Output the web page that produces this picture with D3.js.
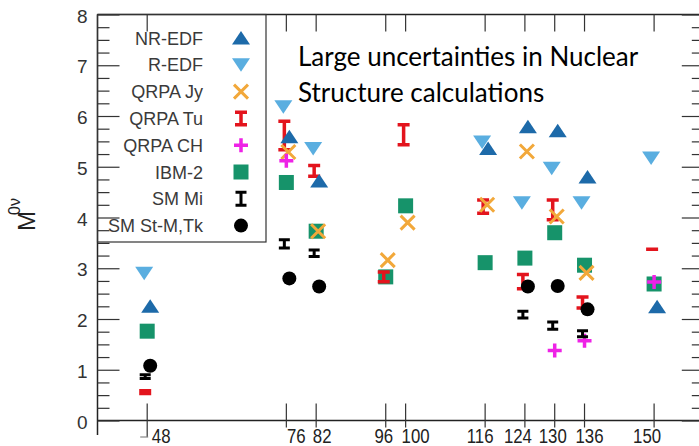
<!DOCTYPE html>
<html><head><meta charset="utf-8">
<script src="https://cdn.jsdelivr.net/npm/d3@7"></script>
<style>body{margin:0;background:#fff}svg{display:block}</style>
</head><body>
<script>
// Nuclear matrix elements M0ν per isotope mass number, for several model calculations
const masses = [48, 76, 82, 96, 100, 116, 124, 130, 136, 150];
const massLabels = ["48", "76", "82", "96", "100", "116", "124", "130", "136", "150"];
const yTickValues = [0, 1, 2, 3, 4, 5, 6, 7, 8];

const nrEdf  = [2.25, 5.59, 4.72, null, null, 5.36, 5.79, 5.71, 4.80, 2.24];
const rEdf   = [2.90, 6.18, 5.36, null, null, 5.49, 4.29, 4.97, 4.29, 5.17];
const qrpaJy = [null, 5.29, 3.73, 3.16, 3.90, 4.25, 5.30, 4.02, 2.91, null];
const qrpaTuLow  = [0.50, 5.30, 4.78, 2.70, 5.40, 4.05, 2.56, 3.92, 2.18, 3.36];
const qrpaTuHigh = [0.62, 5.93, 5.06, 2.96, 5.86, 4.38, 2.91, 4.38, 2.47, 3.39];
const qrpaCh = [null, 5.12, null, null, null, null, null, 1.38, 1.57, 2.73];
const ibm2   = [1.76, 4.69, 3.73, 2.83, 4.23, 3.11, 3.20, 3.70, 3.06, 2.69];
const smMiLow  = [0.80, 3.37, 3.20, null, null, null, 1.99, 1.77, 1.62, null];
const smMiHigh = [0.93, 3.59, 3.39, null, null, null, 2.18, 1.97, 1.80, null];
const smStM  = [1.08, 2.80, 2.64, null, null, null, 2.64, 2.65, 2.19, null];

const legendLabels = ["NR-EDF", "R-EDF", "QRPA Jy", "QRPA Tu", "QRPA CH", "IBM-2", "SM Mi", "SM St-M,Tk"];

// ---- layout ----
const W = 699, H = 446;
const x = d3.scaleLinear().domain([38, 160]).range([97.5, 703.8]);
const y = d3.scaleLinear().domain([0, 8]).range([420.5, 14.5]);

// label nudges (px) for the mass-number tick labels
const labelNudge = {48: 14, 76: 10, 82: 6, 96: -2, 100: 10, 116: -5, 124: -7, 130: -2, 136: 5, 150: -7};

const svg = d3.select("body").append("svg").attr("width", W).attr("height", H)
  .style("font-family", "'Liberation Sans', Arial, sans-serif");

// ---- marker drawing helpers ----
const shapes = {
  up: (g, cx, cy, c) => g.append("path")
      .attr("d", `M${cx - 9},${cy + 6.5}L${cx + 9},${cy + 6.5}L${cx},${cy - 7}Z`).attr("fill", c),
  down: (g, cx, cy, c) => g.append("path")
      .attr("d", `M${cx - 9},${cy - 6.5}L${cx + 9},${cy - 6.5}L${cx},${cy + 7}Z`).attr("fill", c),
  square: (g, cx, cy, c) => g.append("rect")
      .attr("x", cx - 7.5).attr("y", cy - 7.5).attr("width", 15).attr("height", 15).attr("fill", c),
  circle: (g, cx, cy, c) => g.append("circle").attr("cx", cx).attr("cy", cy).attr("r", 7).attr("fill", c),
  cross: (g, cx, cy, c) => g.append("path")
      .attr("d", `M${cx - 7},${cy - 7}L${cx + 7},${cy + 7}M${cx - 7},${cy + 7}L${cx + 7},${cy - 7}`)
      .attr("stroke", c).attr("stroke-width", 3).attr("fill", "none"),
  plus: (g, cx, cy, c) => g.append("path")
      .attr("d", `M${cx - 7},${cy}L${cx + 7},${cy}M${cx},${cy - 7}L${cx},${cy + 7}`)
      .attr("stroke", c).attr("stroke-width", 3.5).attr("fill", "none")
};
function errorBar(g, cx, y0, y1, c, capW, sw) {
  const top = Math.min(y0, y1) + sw / 2, bot = Math.max(y0, y1) - sw / 2;
  const t = Math.min(top, (y0 + y1) / 2), b = Math.max(bot, (y0 + y1) / 2);
  g.append("path")
    .attr("d", `M${cx},${t}L${cx},${b}M${cx - capW / 2},${t}L${cx + capW / 2},${t}M${cx - capW / 2},${b}L${cx + capW / 2},${b}`)
    .attr("stroke", c).attr("stroke-width", sw).attr("fill", "none");
}

const colors = {
  nr: "#1d6aa9", r: "#5aaee0", jy: "#f2a83a", tu: "#e3141d", ch: "#ee22e6",
  ibm: "#16936a", mi: "#000", stm: "#000"
};

// ---- axes frame ----
const frame = svg.append("g").attr("stroke", "#222").attr("fill", "none");
frame.append("line").attr("x1", x.range()[0]).attr("x2", W).attr("y1", y(0)).attr("y2", y(0)).attr("stroke-width", 1.5);
frame.append("line").attr("x1", x.range()[0]).attr("x2", W).attr("y1", y(8)).attr("y2", y(8)).attr("stroke-width", 1.5);
frame.append("line").attr("x1", x.range()[0]).attr("x2", x.range()[0]).attr("y1", y(8)).attr("y2", 435).attr("stroke-width", 1.5);

const minorTicks = d3.range(0, 8.001, 0.25).filter(v => Math.abs(v - Math.round(v)) > 1e-6);

// left axis: inward ticks, labels outside
svg.append("g").attr("transform", `translate(${x.range()[0]},0)`)
  .call(d3.axisLeft(y).tickValues(minorTicks).tickSizeInner(-12).tickSizeOuter(0).tickFormat(""))
  .call(g => g.select(".domain").remove())
  .call(g => g.selectAll("line").attr("stroke", "#333").attr("stroke-width", 1.2));
svg.append("g").attr("transform", `translate(${x.range()[0]},0)`)
  .call(d3.axisLeft(y).tickValues(yTickValues).tickSizeInner(-22).tickSizeOuter(0).tickPadding(10).tickFormat(d3.format("d")))
  .call(g => g.select(".domain").remove())
  .call(g => g.selectAll("line").attr("stroke", "#333").attr("stroke-width", 1.2))
  .call(g => g.selectAll("text").attr("font-size", 19).attr("fill", "#333")
      .attr("font-family", "'Liberation Sans', Arial, sans-serif").attr("dy", "0.4em"));

// right axis: inward ticks only
svg.append("g").attr("transform", `translate(${x.range()[1]},0)`)
  .call(d3.axisRight(y).tickValues(minorTicks).tickSizeInner(-12).tickSizeOuter(0).tickFormat(""))
  .call(g => g.select(".domain").remove())
  .call(g => g.selectAll("line").attr("stroke", "#333").attr("stroke-width", 1.2));
svg.append("g").attr("transform", `translate(${x.range()[1]},0)`)
  .call(d3.axisRight(y).tickValues(yTickValues).tickSizeInner(-22).tickSizeOuter(0).tickFormat(""))
  .call(g => g.select(".domain").remove())
  .call(g => g.selectAll("line").attr("stroke", "#333").attr("stroke-width", 1.2));

// bottom and top mass-number ticks
const xt = svg.append("g").attr("stroke", "#333").attr("stroke-width", 1.2);
masses.forEach((m, i) => {
  xt.append("line").attr("x1", x(m)).attr("x2", x(m)).attr("y1", y(0) - 17).attr("y2", m === 48 ? 437 : y(0) + 7);
  xt.append("line").attr("x1", x(m)).attr("x2", x(m)).attr("y1", y(8)).attr("y2", y(8) + 17);
});
// small dash beside the first label
xt.append("line").attr("x1", x(48) - 7).attr("x2", x(48) + 1).attr("y1", 437).attr("y2", 437).attr("stroke", "#888");

svg.append("g").selectAll("text").data(masses).join("text")
  .attr("transform", (m) => `translate(${x(m) + labelNudge[m]},443) scale(0.8,1)`)
  .attr("text-anchor", "middle").attr("font-size", 21).attr("fill", "#222")
  .text((m, i) => massLabels[i]);

// y-axis title M^0ν
const yt = svg.append("text").attr("transform", "translate(35,231) rotate(-90)")
  .attr("font-family", "'Liberation Sans', Arial, sans-serif").attr("fill", "#222");
yt.append("tspan").attr("font-size", 24).text("M");
yt.append("tspan").attr("font-size", 16).attr("dx", -4).attr("dy", -15).text("0ν");

// ---- legend ----
const lg = svg.append("g");
lg.append("rect").attr("x", x.range()[0]).attr("y", y(8)).attr("width", 266 - x.range()[0]).attr("height", 242 - y(8))
  .attr("fill", "none").attr("stroke", "#333").attr("stroke-width", 1.2);
const legendKinds = ["up", "down", "cross", "tuBar", "plus", "square", "miBar", "circle"];
const legendColors = [colors.nr, colors.r, colors.jy, colors.tu, colors.ch, colors.ibm, colors.mi, colors.stm];
legendLabels.forEach((lab, i) => {
  const cy = 38 + 26.8 * i;
  lg.append("text").attr("x", 203).attr("y", cy + 6.5).attr("text-anchor", "end")
    .attr("font-size", 18).attr("fill", "#3a3a3a").text(lab);
  const k = legendKinds[i];
  if (k === "tuBar") errorBar(lg, 241, cy - 8, cy + 8, legendColors[i], 12, 3.5);
  else if (k === "miBar") errorBar(lg, 241, cy - 8, cy + 8, legendColors[i], 11, 3);
  else shapes[k](lg, 241, cy, legendColors[i]);
});

// ---- title ----
const tt = svg.append("text").attr("font-family", "Lato, 'Open Sans', sans-serif").attr("font-size", 26).attr("fill", "#000");
tt.append("tspan").attr("x", 298).attr("y", 66).text("Large uncertainties in Nuclear");
tt.append("tspan").attr("x", 298).attr("y", 102).text("Structure calculations");

// ---- data marks ----
const plot = svg.append("g");
const dx = {nr: 3, r: -3, jy: 2, tu: -2, ch: 0, ibm: 0, mi: -2, stm: 3};
function points(vals, key, kind) {
  vals.forEach((v, i) => { if (v != null) shapes[kind](plot, x(masses[i]) + dx[key], y(v), colors[key]); });
}
points(rEdf, "r", "down");
points(ibm2, "ibm", "square");
qrpaTuLow.forEach((lo, i) => {
  if (lo != null) errorBar(plot, x(masses[i]) + dx.tu, y(lo), y(qrpaTuHigh[i]), colors.tu, 12, 3.5);
});
points(nrEdf, "nr", "up");
points(qrpaJy, "jy", "cross");
points(qrpaCh, "ch", "plus");
smMiLow.forEach((lo, i) => {
  if (lo != null) errorBar(plot, x(masses[i]) + dx.mi, y(lo), y(smMiHigh[i]), colors.mi, 11, 3);
});
points(smStM, "stm", "circle");
</script>
</body></html>
